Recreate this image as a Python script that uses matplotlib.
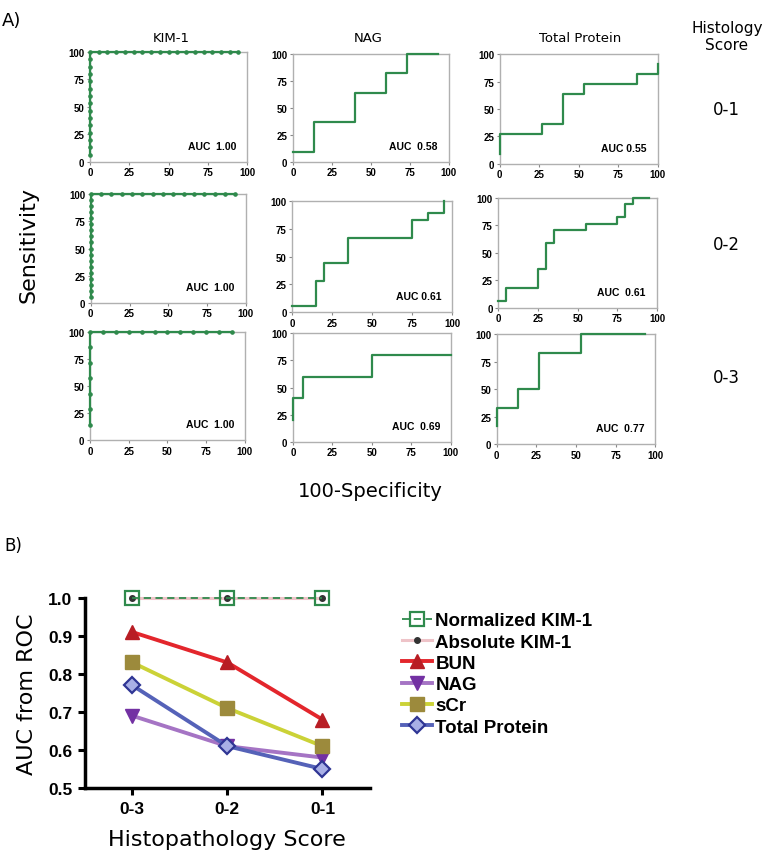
import numpy as np
import matplotlib
matplotlib.use('Agg')
import matplotlib.pyplot as plt

# ── Panel A: ROC step curves (x = 100-specificity, y = sensitivity) ──
markers_list = ['KIM-1', 'NAG', 'Total Protein']
scores = ['0-1', '0-2', '0-3']

# KIM-1: perfect classifiers, dots along the y axis then along the top
kim_y_steps = [15, 18, 7]       # sensitivity points on the axis
kim_x_steps = [18, 15, 12]      # specificity points on the top
kim_x_max = [17, 14, 11]

nag_x = [
    [0, 13.3, 13.3, 40, 40, 60, 60, 73.3, 73.3, 93.3],
    [0, 15, 15, 20, 20, 35, 35, 75, 75, 85, 85, 95, 95],
    [0, 0, 6.25, 6.25, 50, 50, 100],
]
nag_y = [
    [9.1, 9.1, 36.4, 36.4, 63.6, 63.6, 81.8, 81.8, 100, 100],
    [5.6, 5.6, 27.8, 27.8, 44.4, 44.4, 66.7, 66.7, 83.3, 83.3, 88.9, 88.9, 100],
    [20, 40, 40, 60, 60, 80, 80],
]
tp_x = [
    [0, 0, 26.7, 26.7, 40, 40, 53.3, 53.3, 86.7, 86.7, 100, 100],
    [0, 5, 5, 25, 25, 30, 30, 35, 35, 55, 55, 75, 75, 80, 80, 85, 85, 95],
    [0, 0, 13.3, 13.3, 26.7, 26.7, 53.3, 53.3, 93.3],
]
tp_y = [
    [9.1, 27.3, 27.3, 36.4, 36.4, 63.6, 63.6, 72.7, 72.7, 81.8, 81.8, 90.9],
    [5.9, 5.9, 17.6, 17.6, 35.3, 35.3, 58.8, 58.8, 70.6, 70.6, 76.5, 76.5,
     82.4, 82.4, 94.1, 94.1, 100, 100],
    [16.7, 33.3, 33.3, 50, 50, 83.3, 83.3, 100, 100],
]
auc_kim = ['AUC  1.00', 'AUC  1.00', 'AUC  1.00']
auc_nag = ['AUC  0.58', 'AUC 0.61', 'AUC  0.69']
auc_tp = ['AUC 0.55', 'AUC  0.61', 'AUC  0.77']

# ── Panel B: AUC vs histopathology score ──
hist_scores = ['0-3', '0-2', '0-1']
auc_norm_kim = [1.0, 1.0, 1.0]
auc_abs_kim = [1.0, 1.0, 1.0]
auc_bun = [0.91, 0.83, 0.68]
auc_nag_b = [0.69, 0.61, 0.58]
auc_scr = [0.83, 0.71, 0.61]
auc_tprot = [0.77, 0.61, 0.55]

ROC_GREEN = '#2f8a4c'
BOLD = 'Liberation Sans'

fig = plt.figure(figsize=(7.63, 8.53), dpi=100)

# axes boxes [left, bottom, width, height] per row / column
boxes = [
    [[0.118, 0.809, 0.206, 0.129], [0.384, 0.809, 0.204, 0.127], [0.655, 0.807, 0.207, 0.128]],
    [[0.119, 0.644, 0.203, 0.127], [0.383, 0.633, 0.210, 0.130], [0.653, 0.638, 0.208, 0.129]],
    [[0.118, 0.483, 0.203, 0.127], [0.384, 0.481, 0.207, 0.127], [0.651, 0.478, 0.208, 0.129]],
]


def style_roc(ax, auc_txt):
    ax.set_xlim(0, 100)
    ax.set_ylim(0, 100)
    ax.set_xticks([0, 25, 50, 75, 100])
    ax.set_yticks([0, 25, 50, 75, 100])
    for s in ax.spines.values():
        s.set_color('#b0b0b0')
        s.set_linewidth(1.0)
    ax.tick_params(length=2.5, width=0.8, color='#888888', pad=1.5)
    for lab in ax.get_xticklabels() + ax.get_yticklabels():
        lab.set_fontsize(7)
        lab.set_fontweight('bold')
        lab.set_family(BOLD)
    ax.text(0.93, 0.1, auc_txt, transform=ax.transAxes, ha='right', va='bottom',
            fontsize=7.5, fontweight='bold', family=BOLD)


for r in range(3):
    # KIM-1
    ax = fig.add_axes(boxes[r][0])
    ys = np.arange(1, kim_y_steps[r] + 1) * 100.0 / kim_y_steps[r]
    xs = np.arange(0, kim_x_max[r] + 1) * 100.0 / kim_x_steps[r]
    kx = np.concatenate([np.zeros(len(ys)), xs[1:]])
    ky = np.concatenate([ys, np.full(len(xs) - 1, 100.0)])
    ax.plot(kx, ky, color=ROC_GREEN, lw=1.6, marker='o', ms=2.3, clip_on=False, zorder=3)
    style_roc(ax, auc_kim[r])
    # NAG
    ax = fig.add_axes(boxes[r][1])
    ax.plot(nag_x[r], nag_y[r], color=ROC_GREEN, lw=1.6, clip_on=False, zorder=3)
    style_roc(ax, auc_nag[r])
    # Total Protein
    ax = fig.add_axes(boxes[r][2])
    ax.plot(tp_x[r], tp_y[r], color=ROC_GREEN, lw=1.6, clip_on=False, zorder=3)
    style_roc(ax, auc_tp[r])

fig.text(0.003, 0.986, 'A)', fontsize=13, va='top', ha='left')
title_x = [171, 368, 580]
for name, xp in zip(markers_list, title_x):
    fig.text(xp / 763, 1 - 38 / 853, name, fontsize=9.5, ha='center', va='center')
fig.text(727 / 763, 1 - 37 / 853, 'Histology\nScore', fontsize=11, ha='center',
         va='center', linespacing=1.1)
score_y = [110, 245, 378]
for sc, yp in zip(scores, score_y):
    fig.text(726 / 763, 1 - yp / 853, sc, fontsize=12, ha='center', va='center')
fig.text(28 / 763, 1 - 245 / 853, 'Sensitivity', fontsize=16, rotation=90,
         ha='center', va='center')
fig.text(370 / 763, 1 - 492 / 853, '100-Specificity', fontsize=14,
         ha='center', va='center')

# ── Panel B ──
fig.text(0.006, 1 - 546 / 853, 'B)', fontsize=12, va='center', ha='left')
axb = fig.add_axes([0.111, 0.075, 0.374, 0.223])
xb = np.arange(len(hist_scores))

h_abs, = axb.plot(xb, auc_abs_kim, color='#eec3c8', lw=2.2, marker='o', ms=4,
                  mfc='#333333', mec='#333333', clip_on=False, zorder=3)
h_norm, = axb.plot(xb, auc_norm_kim, color='#2f8a4c', lw=1.3, ls=(0, (4, 2.5)),
                   marker='s', ms=10, mfc='none', mec='#2f8a4c', mew=1.6,
                   clip_on=False, zorder=4)
h_bun, = axb.plot(xb, auc_bun, color='#e3262c', lw=2.8, marker='^', ms=10,
                  mfc='#b81d24', mec='#b81d24', clip_on=False, zorder=5)
h_nag, = axb.plot(xb, auc_nag_b, color='#a574c4', lw=2.8, marker='v', ms=10,
                  mfc='#7331a3', mec='#7331a3', clip_on=False, zorder=5)
h_scr, = axb.plot(xb, auc_scr, color='#cbd237', lw=2.8, marker='s', ms=10,
                  mfc='#9c8a3c', mec='#9c8a3c', clip_on=False, zorder=5)
h_tp, = axb.plot(xb, auc_tprot, color='#5562b8', lw=2.8, marker='D', ms=8,
                 mfc='#a9b0e6', mec='#2f3594', mew=1.6, clip_on=False, zorder=6)

axb.set_xlim(-0.5, 2.5)
axb.set_ylim(0.5, 1.0)
axb.set_xticks(xb)
axb.set_xticklabels(hist_scores)
axb.set_yticks([0.5, 0.6, 0.7, 0.8, 0.9, 1.0])
axb.set_yticklabels(['0.5', '0.6', '0.7', '0.8', '0.9', '1.0'])
for s in ['top', 'right']:
    axb.spines[s].set_visible(False)
for s in ['left', 'bottom']:
    axb.spines[s].set_linewidth(2.5)
axb.tick_params(width=2.2, length=5, pad=4)
for lab in axb.get_xticklabels() + axb.get_yticklabels():
    lab.set_fontsize(12.5)
    lab.set_fontweight('bold')
    lab.set_family(BOLD)
axb.set_ylabel('AUC from ROC', fontsize=16, labelpad=8)
axb.set_xlabel('Histopathology Score', fontsize=16, labelpad=10)

leg = fig.legend([h_norm, h_abs, h_bun, h_nag, h_scr, h_tp],
                 ['Normalized KIM-1', 'Absolute KIM-1', 'BUN', 'NAG', 'sCr',
                  'Total Protein'],
                 loc='upper left', bbox_to_anchor=(0.514, 1 - 604 / 853),
                 frameon=False, handlelength=1.6, handletextpad=0.2,
                 labelspacing=0.22, borderpad=0,
                 prop={'family': BOLD, 'weight': 'bold', 'size': 13.5})

fig.savefig('out.png', dpi=100)
